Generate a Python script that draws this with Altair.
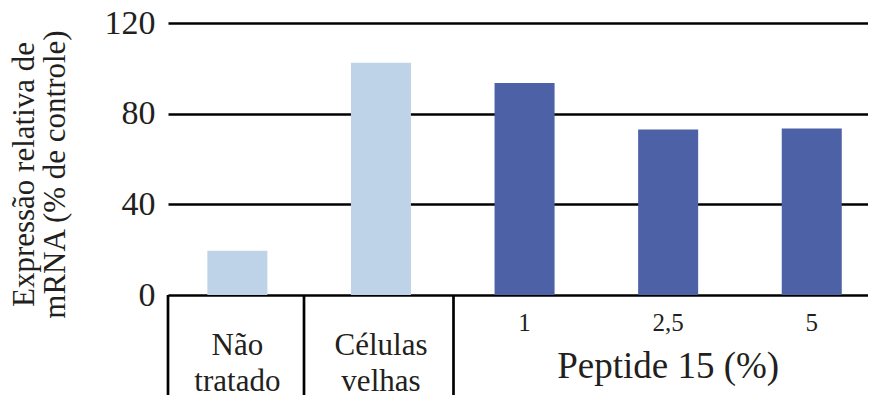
import altair as alt
import pandas as pd

categories = ["Não tratado", "Células velhas", "1", "2,5", "5"]
labels = ["Não\ntratado", "Células\nvelhas", "1", "2,5", "5"]
groups = ["controle", "controle", "peptide", "peptide", "peptide"]
values = [19.5, 102.5, 93.5, 73, 73.5]
y_ticks = [0, 40, 80, 120]
y_title = ["Expressão relativa de", "mRNA (% de controle)"]
group_title = "Peptide 15 (%)"
group_colors = ["#BED3E8", "#4C61A6"]

df = pd.DataFrame({"cat": categories, "label": labels, "group": groups, "value": values})
grp_df = pd.DataFrame({"cat": ["2,5"], "t": [group_title]})

FONT = "Liberation Serif"
INK = "#231F20"

xscale = alt.Scale(domain=categories, paddingInner=0.582, paddingOuter=0.2284, align=0.6)
x = alt.X("cat:N", scale=xscale, axis=None)

bars = alt.Chart(df).mark_bar().encode(
    x=x,
    y=alt.Y(
        "value:Q",
        scale=alt.Scale(domain=[0, 120], nice=False),
        axis=alt.Axis(
            values=y_ticks, grid=True, gridColor="black", gridWidth=2.7, gridOpacity=1,
            domain=False, ticks=False,
            labelFont=FONT, labelFontSize=34, labelColor=INK, labelPadding=13,
            title=y_title, titleFont=FONT, titleFontSize=31, titleFontWeight="normal",
            titleColor=INK, titleAngle=270, titleX=-135, titleY=151, titleAlign="center",
            titleBaseline="alphabetic", titleLineHeight=31,
        ),
    ),
    color=alt.Color("group:N", scale=alt.Scale(domain=["controle", "peptide"], range=group_colors), legend=None),
)

def sep(px):
    return alt.Chart(grp_df).mark_rule(color="black", strokeWidth=2.7).encode(
        x=alt.value(px), y=alt.value(272), y2=alt.value(390)
    )

big_labels = alt.Chart(df).transform_filter(alt.datum.group == "controle").mark_text(
    font=FONT, fontSize=31, color=INK, lineBreak="\n", lineHeight=36,
    baseline="alphabetic", align="center",
).encode(x=x, y=alt.value(332), text="label:N")

small_labels = alt.Chart(df).transform_filter(alt.datum.group == "peptide").mark_text(
    font=FONT, fontSize=25, color=INK, baseline="alphabetic", align="center",
).encode(x=x, y=alt.value(308), text="label:N")

grp_label = alt.Chart(grp_df).mark_text(
    font=FONT, fontSize=37, color=INK, baseline="alphabetic", align="center",
).encode(x=x, y=alt.value(355), text="t:N")

chart = alt.layer(
    bars, sep(0), sep(136), sep(285.5), big_labels, small_labels, grp_label
).properties(
    width=700, height=272,
    padding={"left": 160, "top": 15, "right": 0, "bottom": 100},
    autosize=alt.AutoSizeParams(type="none"),
    background="white",
).configure_view(stroke=None)

chart.save("out.html", embed_options={"renderer": "svg", "actions": False})
